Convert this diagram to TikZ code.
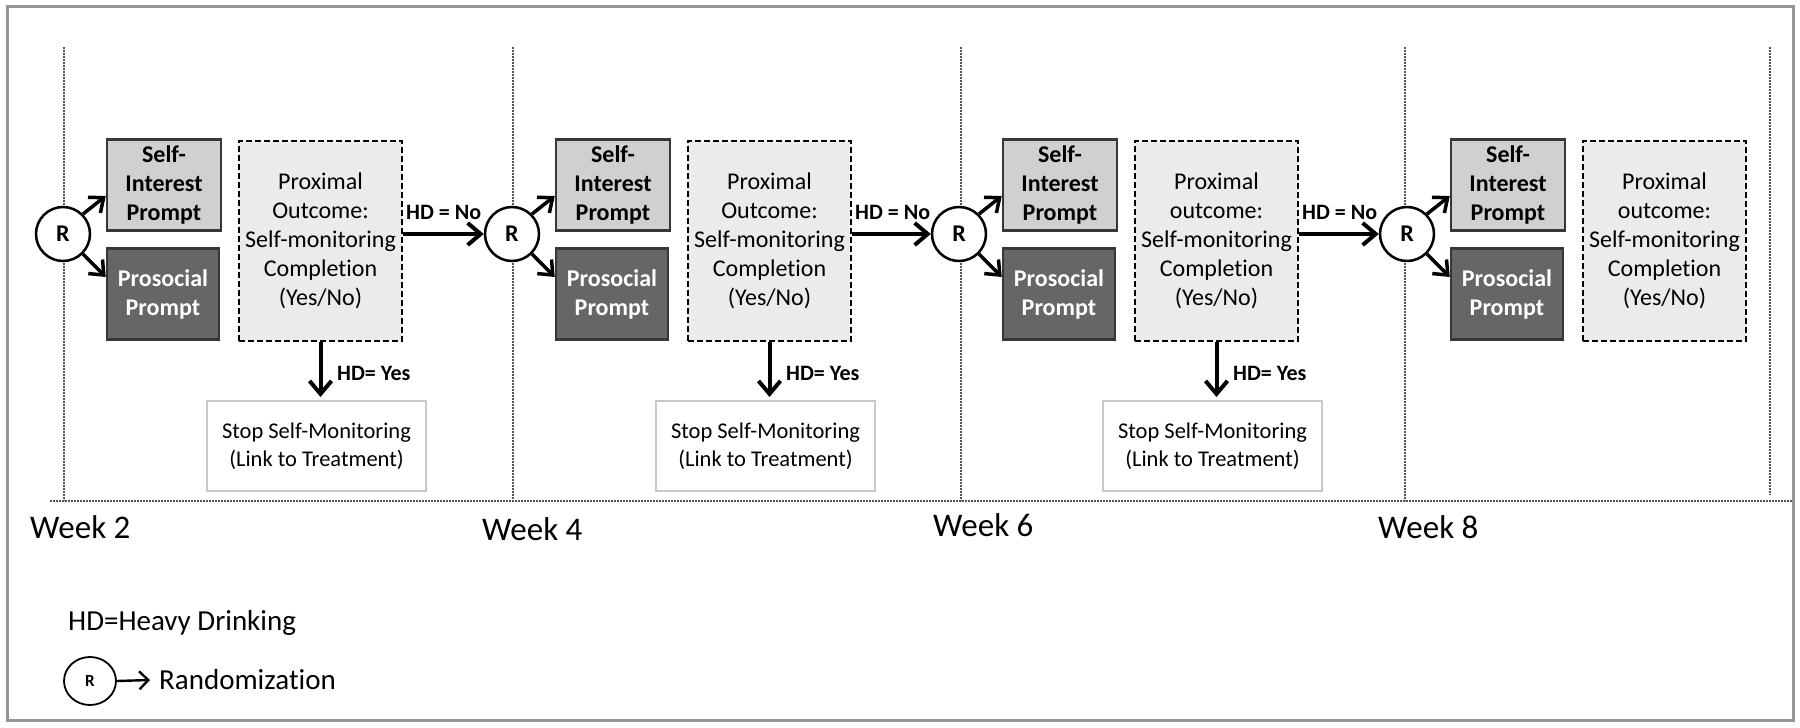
\documentclass[tikz,border=0pt]{standalone}
\usepackage{fontspec}
\setmainfont{Carlito}[Ligatures=NoCommon]
\usetikzlibrary{arrows.meta,shapes.geometric}
\definecolor{siFill}{RGB}{208,208,208}
\definecolor{proFill}{RGB}{102,102,102}
\definecolor{pxFill}{RGB}{235,235,235}
\definecolor{boxLine}{RGB}{55,55,55}
\definecolor{stopLine}{RGB}{200,200,200}
\definecolor{frameLine}{RGB}{150,150,150}
\definecolor{dotLine}{RGB}{85,85,85}
\begin{document}
\begin{tikzpicture}[x=1pt,y=-1pt,
  sibox/.style={draw=boxLine, line width=2.5pt, fill=siFill, minimum width=114pt, minimum height=91pt, inner sep=0pt, align=center, font=\fontsize{24}{29}\selectfont\bfseries},
  probox/.style={sibox, fill=proFill, text=white, minimum width=112pt},
  pxbox/.style={draw=black, line width=2pt, dash pattern=on 6pt off 3pt, fill=pxFill, minimum width=163pt, minimum height=200pt, inner sep=0pt, align=center, font=\fontsize{24}{29}\selectfont},
  stopbox/.style={draw=stopLine, line width=2pt, fill=white, minimum width=219pt, minimum height=90pt, align=center, inner sep=0pt, font=\fontsize{22.5}{28}\selectfont},
  rnode/.style={circle, draw=black, line width=2.5pt, fill=white, minimum size=54pt, inner sep=0pt, font=\fontsize{24}{29}\selectfont\bfseries},
  flow/.style={line width=4pt, -{Straight Barb[length=13pt,width=22pt]}},
  rflow/.style={line width=3.5pt, -{Straight Barb[length=12pt,width=20pt]}},
  hdlabel/.style={font=\fontsize{22}{26}\selectfont\bfseries, inner sep=0pt, anchor=base west},
  weeklabel/.style={font=\fontsize{33}{40}\selectfont, inner sep=0pt, anchor=west},
  legendtext/.style={font=\fontsize{29}{35}\selectfont, inner sep=0pt, anchor=west},
  gridline/.style={draw=dotLine, line width=2pt, densely dotted},
]
\useasboundingbox (0,0) rectangle (1800,728);
\draw[frameLine, line width=3pt] (7,6) rectangle (1793,720);

% week grid
\foreach \x in {64,513,961,1405} \draw[gridline] (\x,47) -- (\x,501);
\draw[gridline] (1770,47) -- (1770,495);
\draw[gridline] (50,501) -- (1792,501);

% columns
\foreach \i/\dx/\oc in {1/0/Outcome, 2/449/Outcome, 3/896/outcome, 4/1344/outcome} {
  \node[rnode] (R\i) at (63+\dx,234) {R};
  \node[sibox] (SI\i) at (164+\dx,185) {Self-\\Interest\\Prompt};
  \node[probox] (PR\i) at (163+\dx,294) {Prosocial\\Prompt};
  \node[pxbox] (PX\i) at (320.5+\dx,241) {Proximal\\\oc:\\Self-monitoring\\Completion\\(Yes/No)};
  \draw[rflow] (R\i.45) -- ([yshift=-11pt]SI\i.west);
  \draw[rflow] (R\i.-45) -- ([yshift=17pt]PR\i.west);
}

% stop branches
\foreach \i/\dx in {1/0, 2/449, 3/896} {
  \node[stopbox] (ST\i) at (316.5+\dx,446) {Stop Self-Monitoring\\(Link to Treatment)};
  \draw[flow, shorten >=3pt] (PX\i.south) -- (PX\i.south |- ST\i.north);
  \node[hdlabel] (HY\i) at (337+\dx,380) {HD= Yes};
}

% continue branches
\foreach \i/\j/\dx in {1/2/0, 2/3/449, 3/4/896} {
  \draw[flow] (PX\i.east |- R\j.west) -- (R\j.west);
  \node[hdlabel] (HN\i) at (406+\dx,219) {HD = No};
}

% week labels
\node[weeklabel] (W2) at (30,527) {Week 2};
\node[weeklabel] (W4) at (482,529) {Week 4};
\node[weeklabel] (W6) at (933,525) {Week 6};
\node[weeklabel] (W8) at (1378,527) {Week 8};

% legend
\node[legendtext] (HDL) at (68,623) {HD=Heavy Drinking};
\node[ellipse, draw=black, line width=1.8pt, minimum width=52pt, minimum height=48pt, inner sep=0pt, font=\fontsize{17}{20}\selectfont\bfseries] (RL) at (90,681) {R};
\node[legendtext] (RAND) at (159,680) {Randomization};
\draw[line width=2.4pt, -{Straight Barb[length=9pt,width=18pt]}] (RL.east) -- ([xshift=-9pt]RAND.west);
\end{tikzpicture}
\end{document}
